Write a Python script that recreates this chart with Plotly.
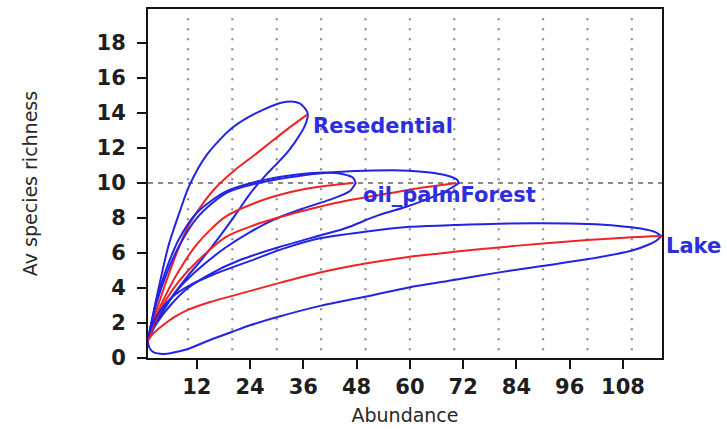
import plotly.graph_objects as go

# ---------------- data ----------------
# Resedential
RES_RED_X = [1, 2, 3, 5, 7, 10, 13, 16.5, 20.6, 25, 29.2, 33, 36.8]
RES_RED_Y = [1, 2.0, 2.8, 4.3, 5.7, 7.5, 8.7, 9.8, 10.75, 11.6, 12.45, 13.2, 13.9]
RES_UP_X = [1, 2, 3.4, 5.6, 8.2, 10.3, 14.2, 20.2, 27, 32.2, 35.2, 36.8]
RES_UP_Y = [1, 2.3, 4.0, 6.4, 8.4, 9.85, 11.6, 13.2, 14.2, 14.65, 14.55, 14.1]
RES_LO_X = [37.0, 36.2, 34, 32.2, 29.6, 27.7, 24, 21, 17, 13, 10, 7, 4, 2, 1]
RES_LO_Y = [13.85, 13.2, 12.3, 11.7, 11.0, 10.5, 9.4, 8.3, 6.9, 5.6, 4.7, 3.7, 2.5, 1.6, 1]

# oil_palmForest
OPF_RED_X = [1, 2, 3, 5, 8, 12, 18.4, 25.8, 33.4, 40, 47.3]
OPF_RED_Y = [1, 1.8, 2.5, 3.6, 5.0, 6.5, 8.07, 8.93, 9.5, 9.8, 10.0]
OPF_UP_X = [1, 2, 3, 5, 8, 12, 18.4, 25.8, 33.4, 40.9, 45, 47.2, 47.8]
OPF_UP_Y = [1, 2.3, 3.4, 5.0, 6.8, 8.3, 9.5, 10.1, 10.45, 10.6, 10.5, 10.3, 10.0]
OPF_LO_X = [47.8, 46.5, 42, 36, 30, 24, 18.4, 12, 8, 5, 3, 2, 1]
OPF_LO_Y = [10.0, 9.55, 9.05, 8.55, 7.98, 7.2, 6.3, 5.0, 4.0, 3.0, 2.2, 1.7, 1]

# unlabelled group
GRP_RED_X = [1, 2, 3, 5, 8, 12, 18.4, 25, 30, 38, 46.5, 55, 62, 70.5]
GRP_RED_Y = [1, 1.7, 2.3, 3.3, 4.4, 5.5, 6.9, 7.6, 8.0, 8.55, 9.03, 9.4, 9.7, 10.0]
GRP_UP_X = [1, 2, 3, 5, 8, 12, 18.4, 25.8, 33.4, 42, 50, 58, 64, 68.5, 70.6, 71.0]
GRP_UP_Y = [1, 2.2, 3.2, 4.7, 6.4, 8.0, 9.4, 10.0, 10.35, 10.6, 10.7, 10.72, 10.62, 10.42, 10.2, 10.0]
GRP_LO_X = [71.0, 69.5, 67.8, 63, 59.2, 52.8, 45.3, 39.7, 30.7, 21.7, 15, 10, 6, 3, 2, 1]
GRP_LO_Y = [10.0, 9.75, 9.5, 9.0, 8.65, 8.15, 7.4, 7.0, 6.35, 5.6, 4.8, 4.0, 3.0, 2.0, 1.55, 1]

# Lake
LAKE_RED_X = [1, 2, 4, 7, 10, 15, 20, 30, 40, 50, 60, 70, 80, 90, 100, 110, 116.6]
LAKE_RED_Y = [1, 1.35, 1.8, 2.35, 2.75, 3.2, 3.55, 4.25, 4.9, 5.4, 5.79, 6.07, 6.32, 6.55, 6.74, 6.9, 6.97]
LAKE_UP_X = [1, 2, 4, 7, 10, 16, 24, 31.5, 39.7, 49.9, 60, 69.9, 79.8, 89.8, 99.9, 107, 112, 115.3, 116.7]
LAKE_UP_Y = [1, 1.9, 2.8, 3.6, 4.1, 4.8, 5.55, 6.25, 6.84, 7.22, 7.5, 7.6, 7.68, 7.7, 7.66, 7.55, 7.4, 7.2, 6.97]
LAKE_LO_X = [116.7, 115.5, 114, 109.9, 99.9, 89.8, 79.8, 69.9, 60, 49.9, 39.8, 30, 24, 20, 15, 9.8, 6.5, 4.5, 2.2, 1.4, 1]
LAKE_LO_Y = [6.97, 6.7, 6.5, 6.13, 5.64, 5.26, 4.88, 4.46, 4.04, 3.5, 2.98, 2.33, 1.87, 1.5, 1.03, 0.5, 0.3, 0.23, 0.33, 0.55, 1]

GROUPS = [
    ("Resedential", RES_RED_X, RES_RED_Y, RES_UP_X, RES_UP_Y, RES_LO_X, RES_LO_Y),
    ("oil_palmForest", OPF_RED_X, OPF_RED_Y, OPF_UP_X, OPF_UP_Y, OPF_LO_X, OPF_LO_Y),
    ("", GRP_RED_X, GRP_RED_Y, GRP_UP_X, GRP_UP_Y, GRP_LO_X, GRP_LO_Y),
    ("Lake", LAKE_RED_X, LAKE_RED_Y, LAKE_UP_X, LAKE_UP_Y, LAKE_LO_X, LAKE_LO_Y),
]

X_TICKS = [12, 24, 36, 48, 60, 72, 84, 96, 108]
Y_TICKS = [0, 2, 4, 6, 8, 10, 12, 14, 16, 18]
GRID_X = [10, 20, 30, 40, 50, 60, 70, 80, 90, 100, 110]
REF_Y = [10]

# label pixel offsets from each curve end (style)
LABEL_SHIFT = {"Resedential": (4, -11), "oil_palmForest": (7, -12), "Lake": (3, -10)}

BLUE = "rgb(35,35,230)"
RED = "rgb(240,35,35)"
LABEL_BLUE = "rgb(45,45,225)"

fig = go.Figure()

for name, rx, ry, ux, uy, lx, ly in GROUPS:
    fig.add_trace(go.Scatter(
        x=ux + lx, y=uy + ly, mode="lines",
        line=dict(color=BLUE, width=2, shape="spline", smoothing=0.8),
        showlegend=False, hoverinfo="skip"))
    fig.add_trace(go.Scatter(
        x=rx, y=ry, mode="lines",
        line=dict(color=RED, width=2, shape="spline", smoothing=0.8),
        showlegend=False, name=name or "group"))
    if name:
        dx, dy = LABEL_SHIFT[name]
        fig.add_annotation(
            x=rx[-1], y=ry[-1], text=name, showarrow=False,
            xanchor="left", yanchor="middle", xshift=dx, yshift=dy,
            font=dict(family="DejaVu Sans", size=21, color=LABEL_BLUE, weight="bold"))

for gx in GRID_X:
    fig.add_shape(type="line", xref="x", yref="paper", x0=gx, x1=gx,
                  y0=0.022, y1=0.974, layer="below",
                  line=dict(color="rgb(140,140,140)", width=2.2, dash="2px,8px"))
for gy in REF_Y:
    fig.add_shape(type="line", xref="paper", yref="y", x0=0, x1=1,
                  y0=gy, y1=gy, layer="below",
                  line=dict(color="rgb(100,100,100)", width=1.6, dash="5px,5px"))

axis_common = dict(
    showline=True, linecolor="rgb(20,20,20)", linewidth=2, mirror=True,
    showgrid=False, zeroline=False, ticks="outside", ticklen=9, tickwidth=2,
    tickcolor="rgb(20,20,20)", automargin=False,
    tickfont=dict(family="DejaVu Sans", size=21, color="rgb(30,30,30)", weight="bold"),
)

fig.update_layout(
    width=727, height=429,
    margin=dict(l=148, r=65, t=9, b=71),
    paper_bgcolor="white", plot_bgcolor="white",
    xaxis=dict(range=[1, 116.8], tickvals=X_TICKS, ticklabelstandoff=0,
               title=dict(text="Abundance", standoff=10,
                          font=dict(family="DejaVu Sans", size=19, color="rgb(40,40,40)")),
               **axis_common),
    yaxis=dict(range=[0, 19.95], tickvals=Y_TICKS, ticklabelstandoff=7,
               title=dict(text="Av species richness", standoff=54,
                          font=dict(family="DejaVu Sans", size=19, color="rgb(40,40,40)")),
               **axis_common),
)

fig.write_html("out.html", config={"displayModeBar": False},
               post_script="document.body.style.margin='0px';")
